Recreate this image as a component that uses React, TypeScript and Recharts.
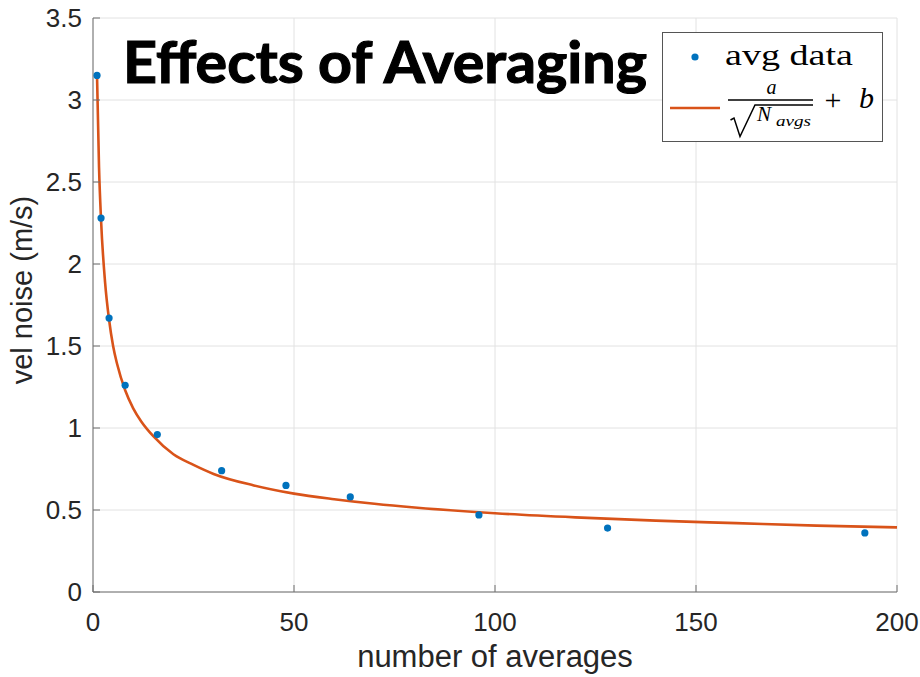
import React from "react";
import {
  ComposedChart,
  Scatter,
  Line,
  XAxis,
  YAxis,
  CartesianGrid,
  Legend,
  Customized,
} from "recharts";

// Measured noise for each averaging count
const avgCounts = [1, 2, 4, 8, 16, 32, 48, 64, 96, 128, 192];
const velNoise = [3.15, 2.28, 1.67, 1.26, 0.96, 0.74, 0.65, 0.58, 0.47, 0.39, 0.36];

// Fitted a/sqrt(N)+b curve, sampled along N
const fitCounts = [1, 1.5, 2, 3, 4, 5, 6, 8, 10, 12, 15, 20, 25, 30, 40, 50, 60, 70, 80, 100, 120, 140, 160, 180, 200];
const fitNoise = [3.15, 2.59, 2.27, 1.89, 1.66, 1.5, 1.39, 1.23, 1.12, 1.04, 0.95, 0.84, 0.775, 0.72, 0.65, 0.6, 0.566, 0.538, 0.515, 0.48, 0.455, 0.435, 0.42, 0.405, 0.394];

const xTicks = [0, 50, 100, 150, 200];
const yTicks = [0, 0.5, 1, 1.5, 2, 2.5, 3, 3.5];

const titleText = "Effects of Averaging";
const xLabel = "number of averages";
const yLabel = "vel noise (m/s)";

const BLUE = "#0072BD";
const ORANGE = "#D95319";
const AXIS = "#6e6e6e";
const GRID = "#e2e2e2";
const TEXT = "#262626";
const SANS = "'Liberation Sans', Arial, sans-serif";
const SERIF = "'Liberation Serif', 'Times New Roman', serif";

const scatterData = avgCounts.map((n, i) => ({ n, noise: velNoise[i] }));
const fitData = fitCounts.map((n, i) => ({ n, fit: fitNoise[i] }));

const tickStyle = { fill: TEXT, fontSize: 26, fontFamily: SANS };

const Dot = (props: any) => <circle cx={props.cx} cy={props.cy} r={3.6} fill={BLUE} />;

const LegendBox = () => (
  <svg width={222} height={111} style={{ display: "block" }}>
    <rect x={0.5} y={0.5} width={220} height={109} fill="#fff" stroke="#555" strokeWidth={1} />
    <circle cx={33} cy={25} r={3.6} fill={BLUE} />
    <text x={63} y={33} fontFamily={SERIF} fontSize={30} fill="#000" textLength={128} lengthAdjust="spacingAndGlyphs">
      avg data
    </text>
    <line x1={8} y1={76} x2={58} y2={76} stroke={ORANGE} strokeWidth={2.5} />
    <text x={109.5} y={62} fontFamily={SERIF} fontStyle="italic" fontSize={20} fill="#000" textAnchor="middle">
      a
    </text>
    <line x1={66} y1={68} x2={151} y2={68} stroke="#000" strokeWidth={1.3} />
    <polyline
      points="68.5,88 72,86 78,104.5 93,73 151,73"
      fill="none"
      stroke="#000"
      strokeWidth={1.5}
      strokeLinejoin="miter"
    />
    <text x={95} y={89} fontFamily={SERIF} fontStyle="italic" fontSize={21} fill="#000">
      N
    </text>
    <text x={114} y={94} fontFamily={SERIF} fontStyle="italic" fontSize={14} fill="#000" textLength={35} lengthAdjust="spacingAndGlyphs">
      avgs
    </text>
    <text x={171} y={78} fontFamily={SERIF} fontSize={30} fill="#000" textAnchor="middle">
      +
    </text>
    <text x={197} y={76} fontFamily={SERIF} fontStyle="italic" fontSize={30} fill="#000">
      b
    </text>
  </svg>
);

const Title = () => (
  <text
    x={123}
    y={83}
    fontFamily="Lato, 'Open Sans', sans-serif"
    fontWeight={700}
    fontSize={58}
    fill="#000"
    stroke="#000"
    strokeWidth={1.2}
    textLength={524}
    lengthAdjust="spacingAndGlyphs"
  >
    {titleText}
  </text>
);

const XAxisTitle = (props: any) => {
  const vb = props.viewBox || {};
  return (
    <text x={vb.x + vb.width / 2} y={vb.y + 75} textAnchor="middle" fontFamily={SANS} fontSize={31} fill={TEXT}>
      {xLabel}
    </text>
  );
};

const YAxisTitle = (props: any) => {
  const vb = props.viewBox || {};
  const cx = vb.x + 32;
  const cy = vb.y + 272;
  return (
    <text
      x={cx}
      y={cy}
      transform={`rotate(-90 ${cx} ${cy})`}
      textAnchor="middle"
      fontFamily={SANS}
      fontSize={29}
      fill={TEXT}
    >
      {yLabel}
    </text>
  );
};

export default function App() {
  return (
    <div style={{ position: "absolute", left: 0, top: 0, width: 920, height: 677, background: "#fff" }}>
      <ComposedChart
        width={920}
        height={677}
        margin={{ top: 18, right: 23, bottom: 0, left: 0 }}
        style={{ fontFamily: SANS }}
      >
        <CartesianGrid stroke={GRID} strokeWidth={1} />
        <XAxis
          dataKey="n"
          type="number"
          domain={[0, 200]}
          ticks={xTicks}
          allowDataOverflow
          height={85}
          stroke={AXIS}
          tickSize={-7}
          tickMargin={28}
          tick={tickStyle}
          label={{ content: <XAxisTitle /> }}
        />
        <XAxis
          xAxisId="top"
          orientation="top"
          type="number"
          domain={[0, 200]}
          ticks={xTicks}
          allowDataOverflow
          height={0}
          stroke={AXIS}
          tickSize={-7}
          tick={false}
        />
        <YAxis
          type="number"
          domain={[0, 3.5]}
          ticks={yTicks}
          allowDataOverflow
          width={93}
          stroke={AXIS}
          tickSize={-7}
          tickMargin={18}
          tick={tickStyle}
          label={{ content: <YAxisTitle /> }}
        />
        <YAxis
          yAxisId="right"
          orientation="right"
          type="number"
          domain={[0, 3.5]}
          ticks={yTicks}
          allowDataOverflow
          width={0}
          stroke={AXIS}
          tickSize={-7}
          tick={false}
        />
        <Line
          data={fitData}
          dataKey="fit"
          type="monotone"
          stroke={ORANGE}
          strokeWidth={2.6}
          dot={false}
          activeDot={false}
          isAnimationActive={false}
          name="fit"
        />
        <Scatter
          data={scatterData}
          dataKey="noise"
          shape={<Dot />}
          isAnimationActive={false}
          name="avg data"
        />
        <Legend
          layout="horizontal"
          verticalAlign="middle"
          align="center"
          wrapperStyle={{ position: "absolute", left: 662, top: 32, width: 222, height: 111 }}
          content={() => <LegendBox />}
        />
        <Customized component={Title} />
      </ComposedChart>
    </div>
  );
}
